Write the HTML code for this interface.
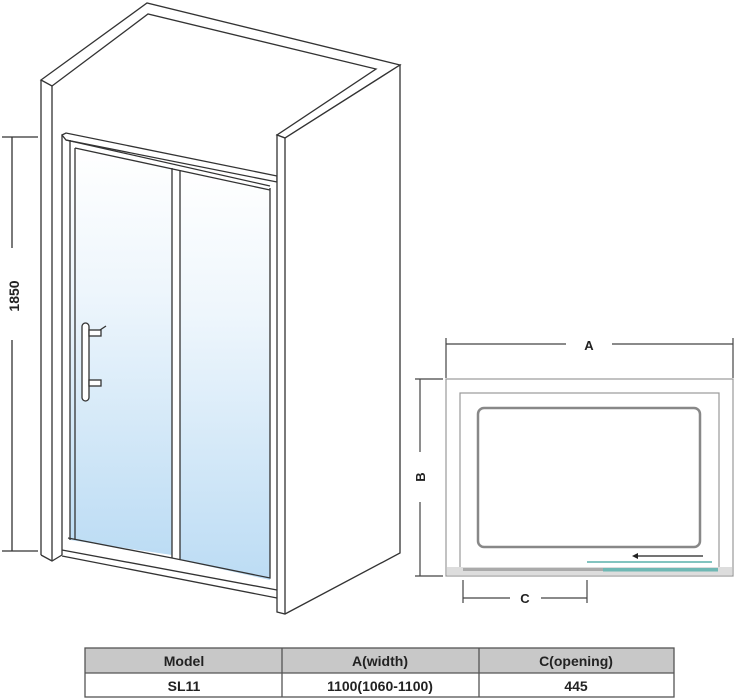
<!DOCTYPE html>
<html><head><meta charset="utf-8"><style>
html,body{margin:0;padding:0;background:#fff;width:736px;height:700px;overflow:hidden}
svg{display:block}
text{font-family:"Liberation Sans",Arial,sans-serif;font-weight:bold;fill:#222}
</style></head><body>
<svg width="736" height="700" viewBox="0 0 736 700" xmlns="http://www.w3.org/2000/svg">
<defs>
<linearGradient id="g" x1="0" y1="0" x2="0" y2="1">
<stop offset="0" stop-color="#ffffff"/><stop offset="0.35" stop-color="#eef6fc"/><stop offset="1" stop-color="#bcdcf4"/>
</linearGradient>
</defs>
<g fill="none" stroke="#333" stroke-width="1.3">
<!-- ceiling cap -->
<polygon points="41,80 147,3 400,65 285,138 277,135 376,69 148,14 52,86" fill="#fff"/>
<!-- left pillar -->
<line x1="41" y1="80" x2="41" y2="555"/>
<line x1="52" y1="86" x2="52" y2="560"/>
<polyline points="41,555 52,561 62,555"/>
<line x1="62" y1="135" x2="62" y2="555"/>
<!-- glass -->
<polygon points="70,148 172,168 172,555 70,540" fill="url(#g)" stroke="none"/>
<polygon points="180,170 270,188 270,580 180,560" fill="url(#g)" stroke="none"/>
<!-- door frame -->
<polygon points="62,135 66,133 277,176 277,182 66,140" fill="#fff"/>
<line x1="66" y1="140" x2="270" y2="186"/>
<line x1="75" y1="148" x2="270" y2="190"/>
<line x1="70" y1="140" x2="70" y2="540"/>
<line x1="75" y1="148" x2="75" y2="540"/>
<line x1="172" y1="168" x2="172" y2="558"/>
<line x1="180" y1="170" x2="180" y2="560"/>
<polyline points="68,538 172,558 270,578 270,188"/>
<line x1="62" y1="550" x2="277" y2="590"/>
<line x1="62" y1="556" x2="277" y2="598"/>
<!-- handle -->
<rect x="82" y="323" width="7" height="78" rx="3.5" fill="#fff"/>
<rect x="89" y="330" width="12" height="6" fill="#fff"/>
<rect x="89" y="380" width="12" height="6" fill="#fff"/>
<line x1="100" y1="330" x2="106" y2="326"/>
<!-- right wall -->
<polygon points="277,135 285,138 400,65 400,553 285,614 277,612" fill="#fff"/>
<line x1="285" y1="138" x2="285" y2="614"/>
<!-- 1850 dimension -->
<line x1="2" y1="137" x2="38" y2="137"/>
<line x1="2" y1="551" x2="38" y2="551"/>
<line x1="12" y1="137" x2="12" y2="248"/>
<line x1="12" y1="340" x2="12" y2="551"/>
</g>
<text transform="translate(19,296) rotate(-90)" font-size="14" text-anchor="middle">1850</text>

<!-- plan view -->
<g fill="none" stroke="#444" stroke-width="1.2">
<line x1="446" y1="338" x2="446" y2="378"/>
<line x1="733" y1="338" x2="733" y2="378"/>
<line x1="446" y1="344" x2="566" y2="344"/>
<line x1="612" y1="344" x2="733" y2="344"/>
<rect x="446" y="379" width="287" height="197" stroke="#999"/>
<rect x="460" y="393" width="259" height="175" stroke="#999"/>
<rect x="478" y="408" width="222" height="139" rx="6" stroke="#888" stroke-width="2.5"/>
<rect x="480" y="410" width="218" height="135" rx="5" stroke="#fff" stroke-width="1"/>
<line x1="415" y1="379" x2="443" y2="379"/>
<line x1="415" y1="576" x2="443" y2="576"/>
<line x1="420" y1="379" x2="420" y2="452"/>
<line x1="420" y1="502" x2="420" y2="576"/>
<line x1="463" y1="580" x2="463" y2="603"/>
<line x1="587" y1="580" x2="587" y2="603"/>
<line x1="463" y1="598" x2="510" y2="598"/>
<line x1="541" y1="598" x2="587" y2="598"/>
</g>
<rect x="447" y="567" width="285" height="8" fill="#ddd"/>
<rect x="463" y="568" width="140" height="3" fill="#aaa"/>
<rect x="603" y="568" width="115" height="3.5" fill="#6fb8b4"/>
<line x1="587" y1="562" x2="712" y2="562" stroke="#5ab0ac" stroke-width="1.5"/>
<line x1="635" y1="556" x2="703" y2="556" stroke="#222" stroke-width="1.2"/>
<polygon points="632,556 638,553 638,559" fill="#222"/>
<text x="589" y="350" font-size="13" text-anchor="middle">A</text>
<text transform="translate(425,477) rotate(-90)" font-size="13" text-anchor="middle">B</text>
<text x="525" y="603" font-size="13" text-anchor="middle">C</text>

<!-- table -->
<rect x="85" y="648" width="589" height="25" fill="#c8c8c8"/>
<g stroke="#555" stroke-width="1.3" fill="none">
<rect x="85" y="648" width="589" height="49"/>
<line x1="85" y1="673" x2="674" y2="673"/>
<line x1="282" y1="648" x2="282" y2="697"/>
<line x1="479" y1="648" x2="479" y2="697"/>
</g>
<g font-size="14" text-anchor="middle">
<text x="184" y="666">Model</text>
<text x="380" y="666">A(width)</text>
<text x="576" y="666">C(opening)</text>
<text x="184" y="691">SL11</text>
<text x="380" y="691">1100(1060-1100)</text>
<text x="576" y="691">445</text>
</g>
</svg>
</body></html>
